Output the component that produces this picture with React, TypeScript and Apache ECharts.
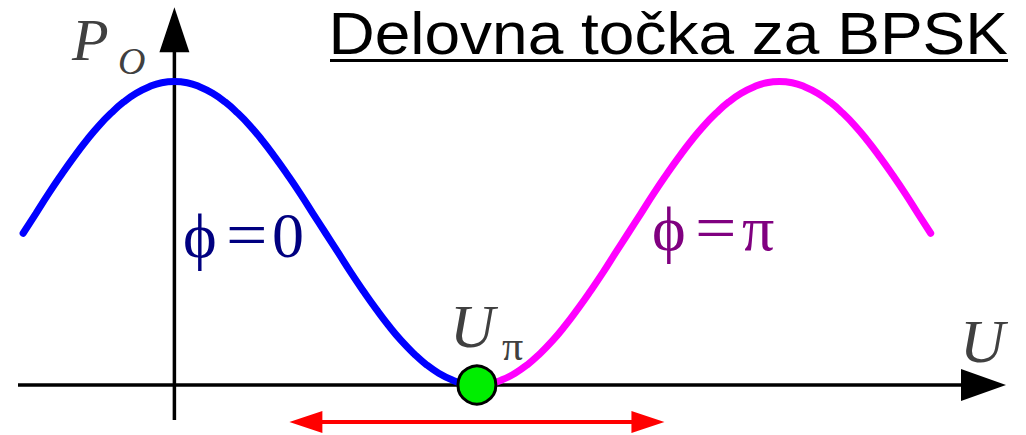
import React, { useEffect, useRef } from "react";
import * as echarts from "echarts";

// Bias voltage in units of U_pi, output power normalised to its maximum
const phaseZeroU = [-0.5, -0.458, -0.417, -0.375, -0.333, -0.292, -0.25, -0.208, -0.167, -0.125, -0.083, -0.042, 0, 0.042, 0.083, 0.125, 0.167, 0.208, 0.25, 0.292, 0.333, 0.375, 0.417, 0.458, 0.5, 0.542, 0.583, 0.625, 0.667, 0.708, 0.75, 0.792, 0.833, 0.875, 0.917, 0.958, 1.0];
const phaseZeroP = [0.5, 0.565, 0.629, 0.691, 0.75, 0.804, 0.854, 0.897, 0.933, 0.962, 0.983, 0.996, 1.0, 0.996, 0.983, 0.962, 0.933, 0.897, 0.854, 0.804, 0.75, 0.691, 0.629, 0.565, 0.5, 0.435, 0.371, 0.309, 0.25, 0.196, 0.146, 0.103, 0.067, 0.038, 0.017, 0.004, 0.0];
const phasePiU = [1.0, 1.042, 1.083, 1.125, 1.167, 1.208, 1.25, 1.292, 1.333, 1.375, 1.417, 1.458, 1.5, 1.542, 1.583, 1.625, 1.667, 1.708, 1.75, 1.792, 1.833, 1.875, 1.917, 1.958, 2.0, 2.042, 2.083, 2.125, 2.167, 2.208, 2.25, 2.292, 2.333, 2.375, 2.417, 2.458, 2.5];
const phasePiP = [0.0, 0.004, 0.017, 0.038, 0.067, 0.103, 0.146, 0.196, 0.25, 0.309, 0.371, 0.435, 0.5, 0.565, 0.629, 0.691, 0.75, 0.804, 0.854, 0.897, 0.933, 0.962, 0.983, 0.996, 1.0, 0.996, 0.983, 0.962, 0.933, 0.897, 0.854, 0.804, 0.75, 0.691, 0.629, 0.565, 0.5];
const operatingPoint = [1, 0];
const swingRange = [0.38, 1.62];
const swingLevel = -0.122;
const xExtent = [-0.517, 2.749];
const yExtent = [-0.1647, 1.2685];
const yAxisExtent = [-0.115, 1.245];
const titleText = "Delovna točka za BPSK";

const SERIF = "'Liberation Serif', 'DejaVu Serif', 'Times New Roman', serif";
const SANS = "'Liberation Sans', Arial, sans-serif";

export default function App() {
  const ref = useRef<HTMLDivElement>(null);
  useEffect(() => {
    document.body.style.margin = "0";
    if (!ref.current) return;
    const chart = echarts.init(ref.current, null, { renderer: "svg" });
    const zip = (a: number[], b: number[]) => a.map((v, i) => [v, b[i]]);
    chart.setOption({
      animation: false,
      grid: { left: 18, right: 20, top: 0, bottom: 0 },
      xAxis: { type: "value", min: xExtent[0], max: xExtent[1], show: false },
      yAxis: { type: "value", min: yExtent[0], max: yExtent[1], show: false },
      series: [
        {
          type: "line",
          data: zip(phaseZeroU, phaseZeroP),
          smooth: true,
          showSymbol: false,
          lineStyle: { color: "#0000ff", width: 7, cap: "round" },
          z: 3,
        },
        {
          type: "line",
          data: zip(phasePiU, phasePiP),
          smooth: true,
          showSymbol: false,
          lineStyle: { color: "#ff00ff", width: 7, cap: "round" },
          z: 3,
        },
        {
          type: "scatter",
          data: [operatingPoint],
          symbolSize: 38,
          itemStyle: { color: "#00ee00", borderColor: "#000000", borderWidth: 3, opacity: 1 },
          z: 5,
        },
      ],
    });
    const p = (x: number, y: number) => chart.convertToPixel({ gridIndex: 0 }, [x, y]) as number[];
    const o = p(0, 0);
    const xl = p(xExtent[0], 0)[0];
    const xr = p(xExtent[1], 0)[0];
    const yt = p(0, yAxisExtent[1])[1];
    const yb = p(0, yAxisExtent[0])[1];
    const sl = p(swingRange[0], swingLevel);
    const sr = p(swingRange[1], swingLevel);
    const black = "#000000";
    const gray = "#404040";
    const t = (text: string, x: number, y: number, size: number, fill: string, italic = false, extra: any = {}) => ({
      type: "text",
      z: 1,
      x,
      y,
      ...extra,
      style: { text, x: 0, y: 0, align: "left", verticalAlign: "middle", fontFamily: SERIF, fontStyle: italic ? "italic" : "normal", fontSize: size, fill },
    });
    chart.setOption({
      graphic: [
        { type: "line", z: 1, shape: { x1: xl, y1: o[1], x2: xr - 44, y2: o[1] }, style: { stroke: black, lineWidth: 3.5 } },
        { type: "polygon", z: 1, shape: { points: [[xr - 45, o[1] - 16], [xr, o[1]], [xr - 45, o[1] + 16]] }, style: { fill: black } },
        { type: "line", z: 1, shape: { x1: o[0], y1: yb, x2: o[0], y2: yt + 44 }, style: { stroke: black, lineWidth: 3.5 } },
        { type: "polygon", z: 1, shape: { points: [[o[0] - 15, yt + 45], [o[0], yt], [o[0] + 15, yt + 45]] }, style: { fill: black } },
        { type: "line", z: 1, shape: { x1: sl[0] + 30, y1: sl[1], x2: sr[0] - 30, y2: sr[1] }, style: { stroke: "#ff0000", lineWidth: 4 } },
        { type: "polygon", z: 1, shape: { points: [[sl[0], sl[1]], [sl[0] + 33, sl[1] - 11], [sl[0] + 33, sl[1] + 11]] }, style: { fill: "#ff0000" } },
        { type: "polygon", z: 1, shape: { points: [[sr[0], sr[1]], [sr[0] - 33, sr[1] - 11], [sr[0] - 33, sr[1] + 11]] }, style: { fill: "#ff0000" } },
        {
          type: "text",
          z: 1,
          x: 1008,
          y: 33.6,
          scaleX: 1.085,
          style: { text: titleText, x: 0, y: 0, align: "right", verticalAlign: "middle", fontFamily: SANS, fontSize: 59, fill: black },
        },
        { type: "line", z: 1, shape: { x1: 330, y1: 60.5, x2: 1008, y2: 60.5 }, style: { stroke: black, lineWidth: 3 } },
        t("P", 72, 40, 60, gray, true),
        t("O", 118, 61, 38, gray, true),
        t("U", 960, 341, 62, gray, true),
        t("U", 450, 326, 62, gray, true),
        t("π", 502, 346, 42, gray),
        t("ϕ", 183, 235, 64, "#000080"),
        t("=", 226, 235, 64, "#000080", false, { scaleX: 1.15 }),
        t("0", 272, 235, 64, "#000080"),
        t("ϕ", 652, 228, 64, "#800080"),
        t("=", 695, 228, 64, "#800080", false, { scaleX: 1.15 }),
        t("π", 742, 228, 64, "#800080"),
      ],
    });
    return () => chart.dispose();
  }, []);
  return <div ref={ref} style={{ width: 1026, height: 435 }} />;
}
